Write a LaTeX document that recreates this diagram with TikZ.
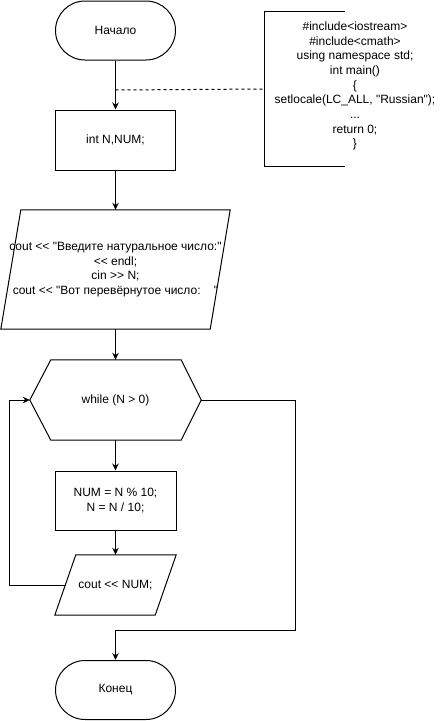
\documentclass[tikz,border=0pt]{standalone}
\usepackage{fontspec}
\setmainfont{Liberation Sans}[Ligatures=TeXOff]
\usetikzlibrary{arrows.meta}
\tikzset{
  base/.style={line width=1pt},
  arr/.style={base,-{Stealth[length=7pt,width=6.5pt]}},
  term/.style={draw,base,rounded corners=29.5pt,minimum width=120pt,minimum height=59pt,inner sep=0pt},
  proc/.style={draw,base,minimum width=120pt,minimum height=60pt,inner sep=0pt},
  shapebox/.style={inner sep=0pt,align=center},
  txt/.style={font=\fontsize{12pt}{14.5pt}\selectfont,align=center}
}
\begin{document}
\begin{tikzpicture}[x=1pt,y=-1pt]
\useasboundingbox (0,0) rectangle (446,721);
% nodes
\node[term,txt] (start) at (115.5,30.5) {Начало};
\node[proc,txt] (init) at (115.5,140) {int N,NUM;};
\node[shapebox,txt,minimum width=229pt,minimum height=119pt] (io1) at (115.5,269.5)
  {cout << "Введите натуральное число:"\\<< endl;\\cin >> N;\\cout << "Вот перевёрнутое число:\ \ \ \ "};
\draw[base] ([xshift=20pt]io1.north west) -- (io1.north east) -- ([xshift=-20pt]io1.south east) -- (io1.south west) -- cycle;
\node[shapebox,txt,minimum width=171pt,minimum height=80pt] (loop) at (115.5,400) {while (N > 0)};
\draw[base] (loop.west) -- ([xshift=21pt]loop.north west) -- ([xshift=-20pt]loop.north east) -- (loop.east) -- ([xshift=-20pt]loop.south east) -- ([xshift=21pt]loop.south west) -- cycle;
\node[proc,txt,minimum width=121pt,minimum height=59pt] (calc) at (115.5,500.5) {NUM = N \% 10;\\N = N / 10;};
\node[shapebox,txt,minimum width=121pt,minimum height=60pt] (out) at (115.5,585) {cout << NUM;};
\draw[base] ([xshift=21pt]out.north west) -- (out.north east) -- ([xshift=-21pt]out.south east) -- (out.south west) -- cycle;
\node[term,txt] (stop) at (115.5,690) {Конец};
% comment
\node[shapebox,minimum width=80pt,minimum height=154pt] (brk) at (305,89) {};
\draw[base] (brk.north east) -- (brk.north west) -- (brk.south west) -- (brk.south east);
\node[txt,font=\fontsize{12pt}{14.7pt}\selectfont] (code) at (355,86)
  {\#include<iostream>\\\#include<cmath>\\using namespace std;\\int main()\\\{\\setlocale(LC\_ALL, "Russian");\\...\\return 0;\\\}};
% connectors
\draw[arr] (start.south) -- (init.north);
\coordinate (dj) at (115.5,90);
\draw[base,dash pattern=on 3pt off 3pt] (dj) -- (brk.west);
\draw[arr] (init.south) -- (io1.north);
\draw[arr] (io1.south) -- (loop.north);
\draw[arr] (loop.south) -- (calc.north);
\draw[arr] (calc.south) -- (out.north);
\draw[arr] ([xshift=10.5pt]out.west) -| ([xshift=-20pt]loop.west) -- (loop.west);
\draw[arr] (loop.east) -- ++(94,0) -- ++(0,230) -| (stop.north);
\end{tikzpicture}
\end{document}
